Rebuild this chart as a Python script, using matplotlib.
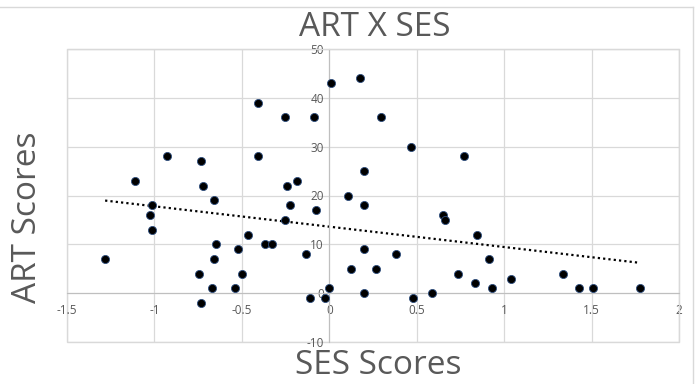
import numpy as np
import matplotlib
matplotlib.use("Agg")
import matplotlib.pyplot as plt
from matplotlib.patches import Rectangle
from matplotlib.lines import Line2D

ses = [-1.282, -1.112, -1.012, -1.025, -1.012, -0.928, -0.733, -0.720, -0.659, -0.745,
       -0.733, -0.672, -0.659, -0.649, -0.524, -0.537, -0.501, -0.463, -0.407, -0.407,
       -0.366, -0.328, -0.254, -0.242, -0.226, -0.254, -0.186, -0.135, -0.112, -0.086,
       -0.074, -0.025, 0.000, 0.010, 0.109, 0.125, 0.173, 0.196, 0.196, 0.196,
       0.196, 0.267, 0.293, 0.379, 0.466, 0.476, 0.585, 0.649, 0.661, 0.768,
       0.738, 0.832, 0.845, 0.911, 0.929, 1.040, 1.336, 1.430, 1.506, 1.776]
art = [7, 23, 18, 16, 13, 28, 27, 22, 19, 4,
       -2, 1, 7, 10, 9, 1, 4, 12, 39, 28,
       10, 10, 36, 22, 18, 15, 23, 8, -1, 36,
       17, -1, 1, 43, 20, 5, 44, 25, 18, 9,
       0, 5, 36, 8, 30, -1, 0, 16, 15, 28,
       4, 2, 12, 7, 1, 3, 4, 1, 1, 1]

x_ticks = [-1.5, -1, -0.5, 0, 0.5, 1, 1.5, 2]
x_labels = ["-1.5", "-1", "-0.5", "0", "0.5", "1", "1.5", "2"]
y_ticks = [-10, 0, 10, 20, 30, 40, 50]
y_labels = ["-10", "0", "10", "20", "30", "40", "50"]

plt.rcParams["font.family"] = ["Open Sans", "DejaVu Sans"]

W, H = 696, 384
fig = plt.figure(figsize=(W / 100, H / 100), dpi=100)
fig.patch.set_facecolor("white")

left, right, top, bottom = 67, 679, 49, 342
ax = fig.add_axes([left / W, 1 - bottom / H, (right - left) / W, (bottom - top) / H])

grid_c = "#d9d9d9"
axis_c = "#bfbfbf"
txt_c = "#595959"

ax.set_xlim(-1.5, 2)
ax.set_ylim(-10, 50)
ax.set_xticks(x_ticks)
ax.set_xticklabels(x_labels)
ax.set_yticks(y_ticks)
ax.set_yticklabels(y_labels)
ax.grid(True, color=grid_c, linewidth=0.9)
ax.set_axisbelow(True)

for s in ["top", "right"]:
    ax.spines[s].set_color(grid_c)
ax.spines["left"].set_position(("data", 0))
ax.spines["bottom"].set_position(("data", 0))
ax.spines["left"].set_color(axis_c)
ax.spines["bottom"].set_color(axis_c)
ax.add_patch(Rectangle((0, 0), 1, 1, transform=ax.transAxes, fill=False,
                       edgecolor=grid_c, linewidth=1.0, clip_on=False, zorder=0))

ax.tick_params(axis="both", length=0, labelsize=8.5, labelcolor=txt_c)
ax.tick_params(axis="x", pad=8)
ax.tick_params(axis="y", pad=4)

ax.scatter(ses, art, s=34, color="black", edgecolors="#2f4f7f", linewidths=0.6, zorder=3)

coef = np.polyfit(ses, art, 1)
xs = np.array([min(ses), max(ses)])
ax.plot(xs, np.polyval(coef, xs), linestyle=(0, (1, 1.4)), color="black", linewidth=1.6, zorder=2)

fig.text(375 / W, 1 - 28 / H, "ART X SES", ha="center", va="center", fontsize=24, color=txt_c)
fig.text(378 / W, 1 - 366 / H, "SES Scores", ha="center", va="center", fontsize=24, color=txt_c)
fig.text(28 / W, 1 - 217 / H, "ART Scores", ha="center", va="center", rotation=90, fontsize=24, color=txt_c)

# outer chart border (top and right visible)
fig.add_artist(Line2D([0, 693 / W], [1 - 7 / H, 1 - 7 / H], color=grid_c, linewidth=1.0))
fig.add_artist(Line2D([693 / W, 693 / W], [0, 1 - 7 / H], color=grid_c, linewidth=1.0))

fig.savefig("out.png", dpi=100)
